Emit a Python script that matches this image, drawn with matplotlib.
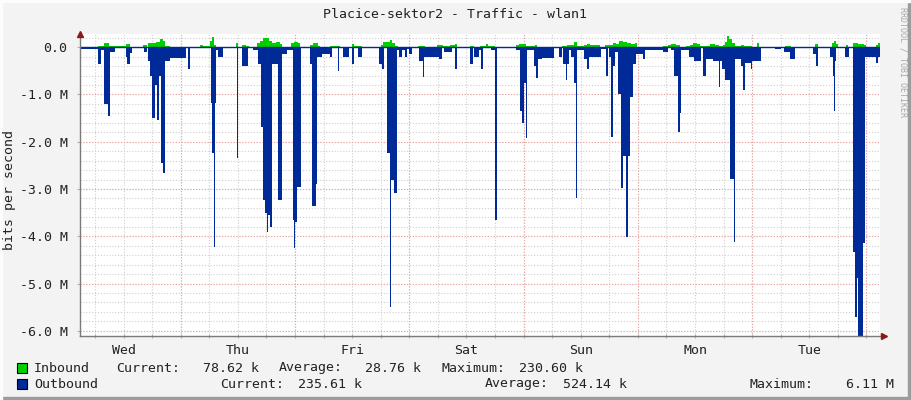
import numpy as np
import matplotlib
matplotlib.use('Agg')
import matplotlib.pyplot as plt
from matplotlib.patches import Rectangle
from matplotlib.transforms import blended_transform_factory

# hours since the left edge of the graph (Wed ~02:51), value in Mbit/s
out_t = [0, 3.78, 4.41, 5.04, 5.88, 6.3, 7.35, 9.66, 9.87, 10.5, 10.92, 13.44, 14.07, 14.28,
         14.7, 15.12, 15.75, 16.17, 16.59, 17.01, 17.43, 17.85, 18.9, 22.26, 22.68, 23.1,
         27.51, 27.72, 28.14, 28.35, 28.56, 28.98, 30.03, 32.97, 33.18, 34.02, 35.28, 36.33,
         37.38, 38.01, 38.43, 38.85, 39.27, 39.48, 39.9, 40.32, 41.58, 42.42, 43.47, 44.73,
         44.94, 45.15, 45.57, 46.41, 48.3, 48.72, 49.56, 49.77, 50.82, 52.5, 52.92, 54.18,
         54.39, 55.23, 56.49, 57.12, 57.54, 58.38, 59.22, 62.79, 63.42, 63.84, 64.47, 65.1,
         65.31, 65.94, 66.57, 66.99, 67.62, 68.25, 68.67, 69.09, 69.72, 71.19, 72.03, 72.24,
         75.39, 76.02, 76.44, 78.12, 78.75, 79.17, 81.9, 82.53, 82.74, 83.79, 84.21, 84.63,
         86.31, 87.15, 87.57, 91.56, 92.4, 92.82, 93.24, 93.66, 93.87, 95.34, 95.76, 96.18,
         97.02, 99.54, 100.59, 101.22, 101.43, 102.06, 102.27, 102.69, 103.11, 103.74, 104.16,
         104.37, 105.84, 106.47, 106.89, 109.41, 110.46, 110.88, 111.09, 111.51, 111.93,
         112.35, 112.98, 113.61, 114.03, 114.66, 115.08, 115.5, 116.13, 116.76, 118.23,
         118.65, 122.43, 123.48, 124.11, 124.74, 125.58, 126.0, 126.21, 127.89, 128.94,
         130.41, 130.83, 131.46, 132.93, 134.19, 134.4, 134.82, 135.45, 136.5, 137.34,
         137.55, 138.81, 139.23, 139.65, 140.91, 141.12, 143.01, 145.95, 147.21, 147.84,
         149.1, 150.15, 153.93, 154.56, 154.98, 157.5, 158.13, 158.34, 158.55, 158.76,
         160.65, 161.49, 162.33, 162.75, 163.17, 163.38, 164.43, 164.85, 167.16, 167.58]
out_v = [0.03, 0.35, 0.05, 1.2, 1.45, 0.1, 0.02, 0.2, 0.35, 0.12, 0.02, 0.1, 0.02, 0.3,
         0.6, 1.5, 0.8, 1.55, 0.6, 2.45, 2.67, 0.3, 0.23, 0.02, 0.45, 0.01,
         1.18, 2.24, 4.22, 1.18, 0.05, 0.2, 0.02, 2.35, 0.02, 0.4, 0.02, 0.05,
         0.35, 1.68, 3.24, 3.5, 3.9, 3.55, 3.8, 0.35, 3.24, 0.15, 0.06, 3.65,
         4.25, 3.7, 2.95, 0.02, 0.35, 3.35, 2.9, 0.2, 0.15, 0.2, 0.02, 0.5,
         0.02, 0.2, 0.02, 0.35, 0.02, 0.2, 0.01, 0.35, 0.45, 0.02, 2.24, 5.5,
         2.8, 3.08, 0.05, 0.2, 0.06, 0.2, 0.03, 0.15, 0.02, 0.3, 0.63, 0.2,
         0.25, 0.02, 0.1, 0.02, 0.45, 0.02, 0.35, 0.02, 0.2, 0.05, 0.45, 0.02,
         0.05, 3.66, 0.01, 0.05, 1.35, 1.6, 0.75, 1.93, 0.05, 0.4, 0.65, 0.25,
         0.23, 0.02, 0.2, 0.02, 0.35, 0.7, 0.35, 0.05, 0.2, 0.75, 3.19,
         0.05, 0.25, 0.45, 0.2, 0.03, 0.6, 0.02, 0.2, 1.9, 0.4,
         0.1, 1.0, 2.98, 2.3, 4.02, 2.3, 1.05, 0.35, 0.15, 0.25,
         0.05, 0.1, 0.02, 0.05, 0.6, 1.8, 1.4, 0.05, 0.2, 0.3,
         0.02, 0.6, 0.25, 0.3, 0.85, 0.3, 0.45, 0.7, 2.78, 4.12,
         0.25, 0.4, 0.9, 0.33, 0.45, 0.3, 0.02, 0.03, 0.01, 0.1,
         0.25, 0.02, 0.15, 0.4, 0.02, 0.2, 0.6, 1.34, 0.3, 0.02,
         0.2, 0.02, 4.33, 5.7, 4.88, 6.11, 4.15, 0.2, 0.33, 0.2]

in_t = [0, 3.78, 5.04, 6.09, 9.66, 10.5, 13.23, 14.07, 14.28, 15.12, 15.96, 16.8, 17.43,
        17.85, 18.9, 25.2, 25.83, 27.3, 27.72, 28.14, 28.56, 32.76, 33.18, 34.02, 34.86,
        35.49, 37.17, 37.8, 38.43, 39.06, 39.69, 40.32, 41.16, 42.0, 42.42, 44.31, 44.94,
        45.78, 46.2, 48.3, 48.93, 49.98, 50.4, 52.5, 54.6, 57.12, 57.54, 58.38, 59.22,
        63.21, 63.63, 65.1, 65.52, 66.15, 66.78, 70.98, 72.45, 74.97, 76.23, 77.7, 78.75,
        79.17, 81.9, 82.74, 84.0, 85.26, 85.68, 87.15, 91.56, 92.19, 93.66, 94.5, 95.55,
        95.97, 101.22, 102.27, 103.74, 104.37, 105.84, 106.47, 107.1, 109.2, 110.25,
        110.88, 111.93, 112.56, 113.19, 114.03, 114.87, 115.71, 116.55, 116.97, 122.43,
        123.48, 124.11, 125.16, 126.0, 127.26, 128.1, 128.73, 129.57, 130.2, 131.46,
        132.3, 133.35, 134.19, 135.03, 135.45, 135.87, 136.29, 136.92, 137.55, 138.18,
        138.81, 139.44, 141.12, 142.17, 142.59, 148.05, 149.31, 154.35, 154.98, 157.92,
        158.34, 158.76, 159.18, 160.86, 161.28, 162.33, 163.38, 164.64, 165.06, 167.16,
        167.58]
in_v = [0.01, 0.03, 0.08, 0.02, 0.07, 0.01, 0.04, 0.01, 0.1, 0.08, 0.12, 0.18, 0.13,
        0.03, 0.01, 0.05, 0.02, 0.13, 0.22, 0.05, 0.01, 0.08, 0.01, 0.05, 0.03,
        0.01, 0.1, 0.14, 0.19, 0.2, 0.14, 0.1, 0.12, 0.06, 0.01, 0.1, 0.12,
        0.08, 0.01, 0.05, 0.09, 0.03, 0.01, 0.03, 0.01, 0.07, 0.02, 0.03, 0.01,
        0.04, 0.12, 0.16, 0.1, 0.02, 0.01, 0.03, 0.01, 0.04, 0.02, 0.04, 0.06,
        0.01, 0.03, 0.01, 0.03, 0.06, 0.02, 0.01, 0.04, 0.07, 0.03, 0.02, 0.04,
        0.01, 0.03, 0.04, 0.12, 0.02, 0.04, 0.07, 0.04, 0.01, 0.04,
        0.05, 0.1, 0.07, 0.14, 0.11, 0.09, 0.06, 0.09, 0.01, 0.03,
        0.04, 0.06, 0.05, 0.01, 0.03, 0.05, 0.09, 0.07, 0.03, 0.03,
        0.06, 0.05, 0.03, 0.04, 0.12, 0.23, 0.18, 0.1, 0.02, 0.03,
        0.04, 0.02, 0.01, 0.08, 0.01, 0.03, 0.01, 0.07, 0.01, 0.08,
        0.14, 0.06, 0.01, 0.04, 0.01, 0.1, 0.06, 0.04, 0.01, 0.05,
        0.08]

days = ['Wed', 'Thu', 'Fri', 'Sat', 'Sun', 'Mon', 'Tue']
first_midnight = 21.15   # Thu 00:00, hours after left edge
span = 168

legend_rows = [
    ('Inbound', '#00cf00', [('Current:', 116, '78.62 k', 259), ('Average:', 279, '28.76 k', 421),
                            ('Maximum:', 441, '230.60 k', 583)]),
    ('Outbound', '#002a97', [('Current:', 220, '235.61 k', 362), ('Average:', 485, '524.14 k', 627),
                             ('Maximum:', 750, '6.11 M', 894)]),
]

mono = 'DejaVu Sans Mono'
W, H = 911, 400
fig = plt.figure(figsize=(W / 100, H / 100), dpi=100, facecolor='#f3f3f3')
# shadow frame
fig.patches.append(Rectangle((0, 0), 1, 3 / H, transform=fig.transFigure, color='#9c9c9c', zorder=0))
fig.patches.append(Rectangle(((W - 3) / W, 0), 3 / W, 1, transform=fig.transFigure, color='#9c9c9c', zorder=0))
fig.patches.append(Rectangle((0, (H - 2) / H), 1, 2 / H, transform=fig.transFigure, color='#fcfcfc', zorder=0))
fig.patches.append(Rectangle((0, 0), 2 / W, 1, transform=fig.transFigure, color='#fcfcfc', zorder=0))

ax = fig.add_axes([80 / W, (H - 336) / H, 800 / W, (336 - 34) / H])
ax.set_facecolor('white')

ot = np.array(out_t + [span])
ov = -np.array(out_v + [out_v[-1]])
it = np.array(in_t + [span])
iv = np.array(in_v + [in_v[-1]])

ax.fill_between(it, iv, 0, step='post', color='#00cf00', lw=0, zorder=3)
ax.fill_between(ot, ov, 0, step='post', color='#002a97', lw=0, zorder=3)
ax.axhline(0, color='#002a97', lw=1, zorder=4)

ax.set_xlim(0, span)
ax.set_ylim(-6.11, 0.28)

# grid
major_x = np.arange(first_midnight, span, 24)
minor_x = np.arange(first_midnight % 6, span, 6)
for x in minor_x:
    ax.axvline(x, color='#cfcfcf', lw=0.8, ls=(0, (1, 1.6)), zorder=1)
for y in np.arange(-6.0, 0.3, 0.2):
    ax.axhline(y, color='#cfcfcf', lw=0.8, ls=(0, (1, 1.6)), zorder=1)
for x in major_x:
    ax.axvline(x, color='#f0a0a0', lw=0.8, ls=(0, (1, 1.6)), zorder=2)
for y in range(-6, 1):
    ax.axhline(y, color='#f0a0a0', lw=0.8, ls=(0, (1, 1.6)), zorder=2)

for s in ['top', 'right']:
    ax.spines[s].set_visible(False)
for s in ['left', 'bottom']:
    ax.spines[s].set_color('#7a7a7a')
    ax.spines[s].set_linewidth(1)
    ax.spines[s].set_zorder(5)

ax.set_yticks(range(-6, 1))
ax.set_yticklabels(['%.1f M' % v if v else '0.0' for v in range(-6, 1)],
                   fontfamily=mono, fontsize=9.5, color='#222222')
ax.set_xticks(minor_x)
ax.set_xticklabels([])
ax.tick_params(axis='x', length=3, direction='inout', color='#b0b0b0')
ax.tick_params(axis='y', length=2, pad=7, color='#b0b0b0')

tr = blended_transform_factory(ax.transData, ax.transAxes)
for i, d in enumerate(days):
    ax.text(first_midnight - 12 + 24 * i, -0.025, d, transform=tr, ha='center', va='top',
            fontfamily=mono, fontsize=9.5, color='#222222')

# arrows
ax.plot([0], [1.0], marker='^', color='#8b1a1a', ms=5, transform=ax.transAxes, clip_on=False, zorder=6)
ax.plot([1.005], [0], marker='>', color='#8b1a1a', ms=5, transform=ax.transAxes, clip_on=False, zorder=6)

fig.text(455 / W, 1 - 14 / H, 'Placice-sektor2 - Traffic - wlan1', ha='center', va='center',
         fontfamily=mono, fontsize=9.5, color='#222222')
fig.text(10 / W, 1 - 190 / H, 'bits per second', rotation=90, ha='center', va='center',
         fontfamily=mono, fontsize=9.5, color='#222222')
fig.text(903 / W, 1 - 7 / H, 'RRDTOOL / TOBI OETIKER', rotation=270, ha='center', va='top',
         fontfamily=mono, fontsize=6, color='#a8a8a8')

for row, (name, col, stats) in enumerate(legend_rows):
    yc = 1 - (368 + 16 * row) / H
    fig.patches.append(Rectangle((17 / W, yc - 5 / H), 10 / W, 10 / H, transform=fig.transFigure,
                                 facecolor=col, edgecolor='black', lw=0.8, zorder=2))
    fig.text(34 / W, yc, name, ha='left', va='center', fontfamily=mono, fontsize=9.5, color='#222222')
    for lab, lx, val, vx in stats:
        fig.text(lx / W, yc, lab, ha='left', va='center', fontfamily=mono, fontsize=9.5, color='#222222')
        fig.text(vx / W, yc, val, ha='right', va='center', fontfamily=mono, fontsize=9.5, color='#222222')

fig.savefig('out.png', dpi=100, facecolor=fig.get_facecolor())
